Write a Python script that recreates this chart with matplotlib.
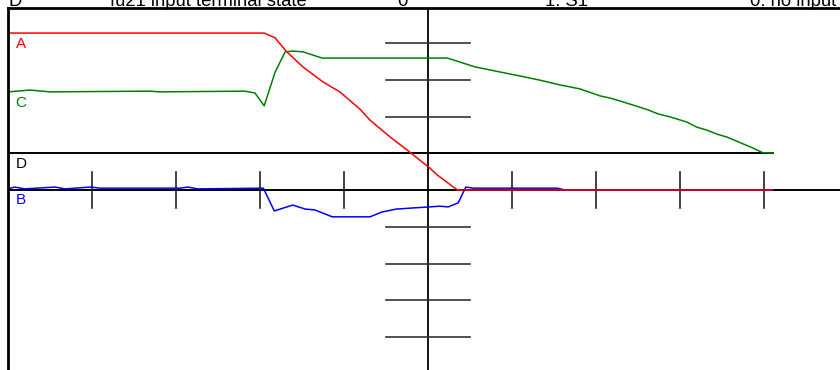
import matplotlib
matplotlib.use('Agg')
from matplotlib import pyplot as plt

plt.rcParams['font.family'] = ['Liberation Sans', 'DejaVu Sans']

# time axis in divisions (0 = trigger / cursor), vertical axis in divisions
a_time = [-5.0, -1.95, -1.82, -1.69, -1.49, -1.25, -1.05, -0.81, -0.69, -0.45,
          -0.25, 0.02, 0.11, 0.35, 4.1]
a_vals = [4.27, 4.27, 4.14, 3.78, 3.35, 2.94, 2.67, 2.20, 1.90, 1.44,
          1.09, 0.60, 0.41, 0.0, 0.0]

c_time = [-5.0, -4.74, -4.5, -3.31, -3.19, -2.18, -2.06, -1.95, -1.82, -1.70,
          -1.61, -1.49, -1.26, 0.23, 0.56, 0.86, 1.10, 1.33, 1.57, 1.81,
          2.05, 2.17, 2.29, 2.62, 2.74, 2.88, 3.08, 3.20, 3.32, 3.44,
          3.56, 3.87, 3.99, 4.11]
c_vals = [1.67, 1.72, 1.67, 1.69, 1.67, 1.69, 1.64, 1.29, 2.21, 2.76,
          2.78, 2.76, 2.59, 2.59, 2.35, 2.21, 2.10, 1.99, 1.86, 1.75,
          1.56, 1.50, 1.42, 1.18, 1.07, 0.99, 0.85, 0.71, 0.63, 0.52,
          0.44, 0.14, 0.01, 0.01]

d_time = [-5.0, 4.11]
d_vals = [0, 0]

b_time = [-5.0, -4.92, -4.8, -4.44, -4.32, -4.02, -3.90, -2.95, -2.86, -2.74,
          -1.96, -1.83, -1.61, -1.46, -1.35, -1.14, -0.69, -0.55, -0.38, -0.19,
          0.02, 0.14, 0.24, 0.36, 0.45, 0.54, 1.54, 1.63, 4.1]
b_vals = [0.03, 0.08, 0.03, 0.08, 0.03, 0.08, 0.05, 0.05, 0.08, 0.03,
          0.05, -0.57, -0.41, -0.52, -0.54, -0.73, -0.73, -0.60, -0.52, -0.49,
          -0.46, -0.44, -0.46, -0.35, 0.08, 0.05, 0.05, 0.0, 0.0]

# channel name, times, values, offset, colour (drawing order)
channels = [
    ('D', d_time, d_vals, 1.0, 'black'),
    ('C', c_time, c_vals, 1.0, '#008000'),
    ('B', b_time, b_vals, 0.0, '#0000ff'),
    ('A', a_time, a_vals, 0.0, '#ff0000'),
]

header = ['D', 'fu21 input terminal state', '0', '1: S1', '0: no input']
header_x = [8, 208, 402, 545, 750]
header_ha = ['left', 'center', 'center', 'left', 'left']

div_px_x = 84.0
div_px_y = 36.75

fig = plt.figure(figsize=(8.4, 3.7), dpi=100)
ax = fig.add_axes([8 / 840, 0, 832 / 840, 362 / 370])
ax.set_xlim(-5.0, -5.0 + 832 / div_px_x)
ax.set_ylim(-180 / div_px_y, 182 / div_px_y)
ax.set_xticks([])
ax.set_yticks([])
for side in ['right', 'bottom']:
    ax.spines[side].set_visible(False)
for side in ['left', 'top']:
    ax.spines[side].set_linewidth(2.0)
    ax.spines[side].set_zorder(10)

# crosshair with division ticks
ax.axvline(0, color='black', lw=1.3, zorder=1)
ax.axhline(0, color='black', lw=1.4, zorder=1)
for k in [-4, -3, -2, -1, 1, 2, 3, 4]:
    ax.plot([-0.5, 0.5], [k, k], color='#333333', lw=1.2, zorder=1)
    ax.plot([k, k], [-0.5, 0.5], color='#222222', lw=1.2, zorder=1)

for name, t, v, off, col in channels:
    y = [val + off for val in v]
    lw = 1.4 if name == 'D' else 1.1
    ax.plot(t, y, color=col, lw=lw, zorder=3)
    ax.text(t[0] + 0.09, y[0] - 0.1, name, color=col, fontsize=11,
            ha='left', va='top', zorder=4)

for txt, x, ha in zip(header, header_x, header_ha):
    fig.text(x / 840, 1 - 6 / 370, txt, fontsize=13.3, ha=ha, va='baseline')

fig.savefig('out.png', dpi=100)
